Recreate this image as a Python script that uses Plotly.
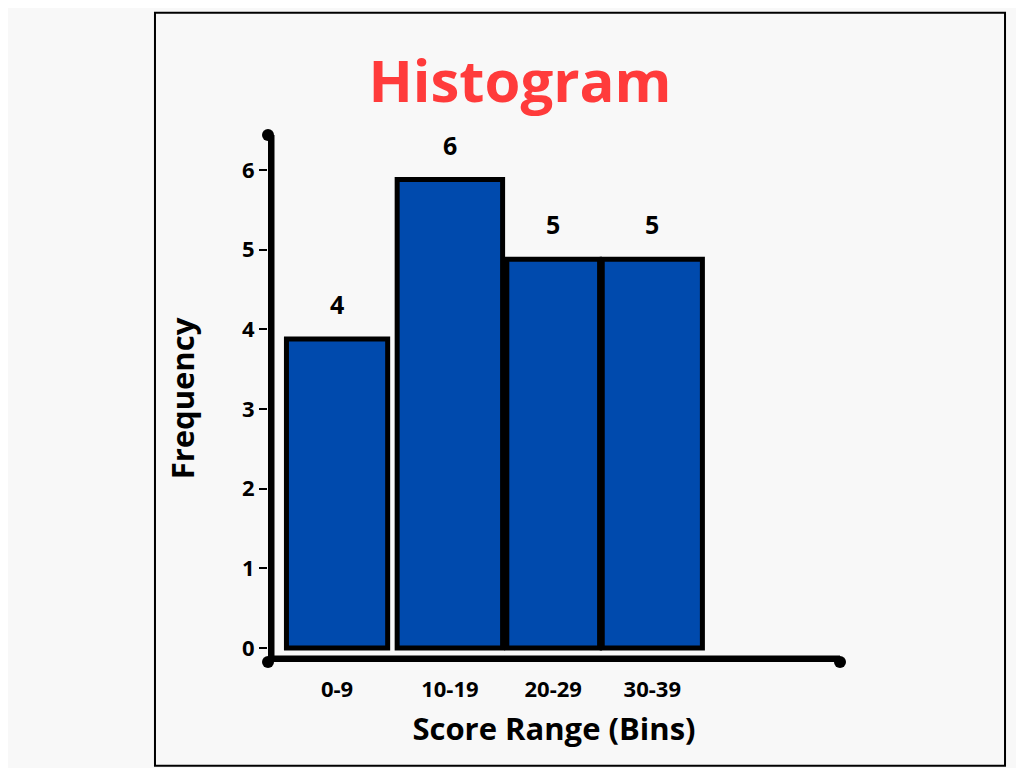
import plotly.graph_objects as go

categories = ["0-9", "10-19", "20-29", "30-39"]
frequencies = [4, 6, 5, 5]
positions = [0, 1.07, 2.05, 2.99]
widths = [0.96, 1.0, 0.88, 0.95]

x0, x1 = -0.655, 4.77
y0, y1 = -0.176, 6.44

font = dict(family="Open Sans", color="black", weight="bold")

fig = go.Figure()
fig.add_trace(go.Bar(
    x=positions, y=[f - 0.12 for f in frequencies], width=widths,
    marker=dict(color="#004aad", line=dict(color="black", width=5)),
    cliponaxis=False, showlegend=False, hoverinfo="skip"))
fig.add_trace(go.Scatter(
    x=[x0, x0, x1], y=[y1, y0, y0], mode="lines+markers",
    line=dict(color="black", width=13), marker=dict(color="black", size=12),
    cliponaxis=False, showlegend=False, hoverinfo="skip"))

annotations = [dict(x=p, y=f - 0.12, text=str(f), showarrow=False, yanchor="bottom",
                    yshift=16, font=dict(size=25, **font))
               for p, f in zip(positions, frequencies)]

fig.update_layout(
    width=1024, height=768,
    margin=dict(l=260, r=192, t=127, b=114),
    paper_bgcolor="#f8f8f8", plot_bgcolor="rgba(0,0,0,0)",
    title=dict(text="Histogram", x=0.5, xref="container", xanchor="center",
               y=0.93, yref="container",
               font=dict(family="Open Sans", size=58, color="#ff3b3b", weight="bold")),
    xaxis=dict(range=[x0, x1], tickvals=positions, ticktext=categories,
               showgrid=False, zeroline=False, showline=False, ticks="",
               ticklabelstandoff=12,
               tickfont=dict(size=22, **font),
               title=dict(text="Score Range (Bins)", font=dict(size=31, **font), standoff=16)),
    yaxis=dict(range=[y0, y1], tickvals=[0, 1, 2, 3, 4, 5, 6],
               showgrid=False, zeroline=False, showline=False,
               ticks="outside", ticklen=8, tickwidth=2, tickcolor="black",
               tickfont=dict(size=22, **font),
               title=dict(text="Frequency", font=dict(size=31, **font), standoff=38)),
    annotations=annotations,
    shapes=[dict(type="rect", xref="paper", yref="paper",
                 x0=-0.1976, x1=1.2885, y0=-0.197, y1=1.232,
                 line=dict(color="black", width=2), layer="below")],
)
fig.write_html("out.html")
